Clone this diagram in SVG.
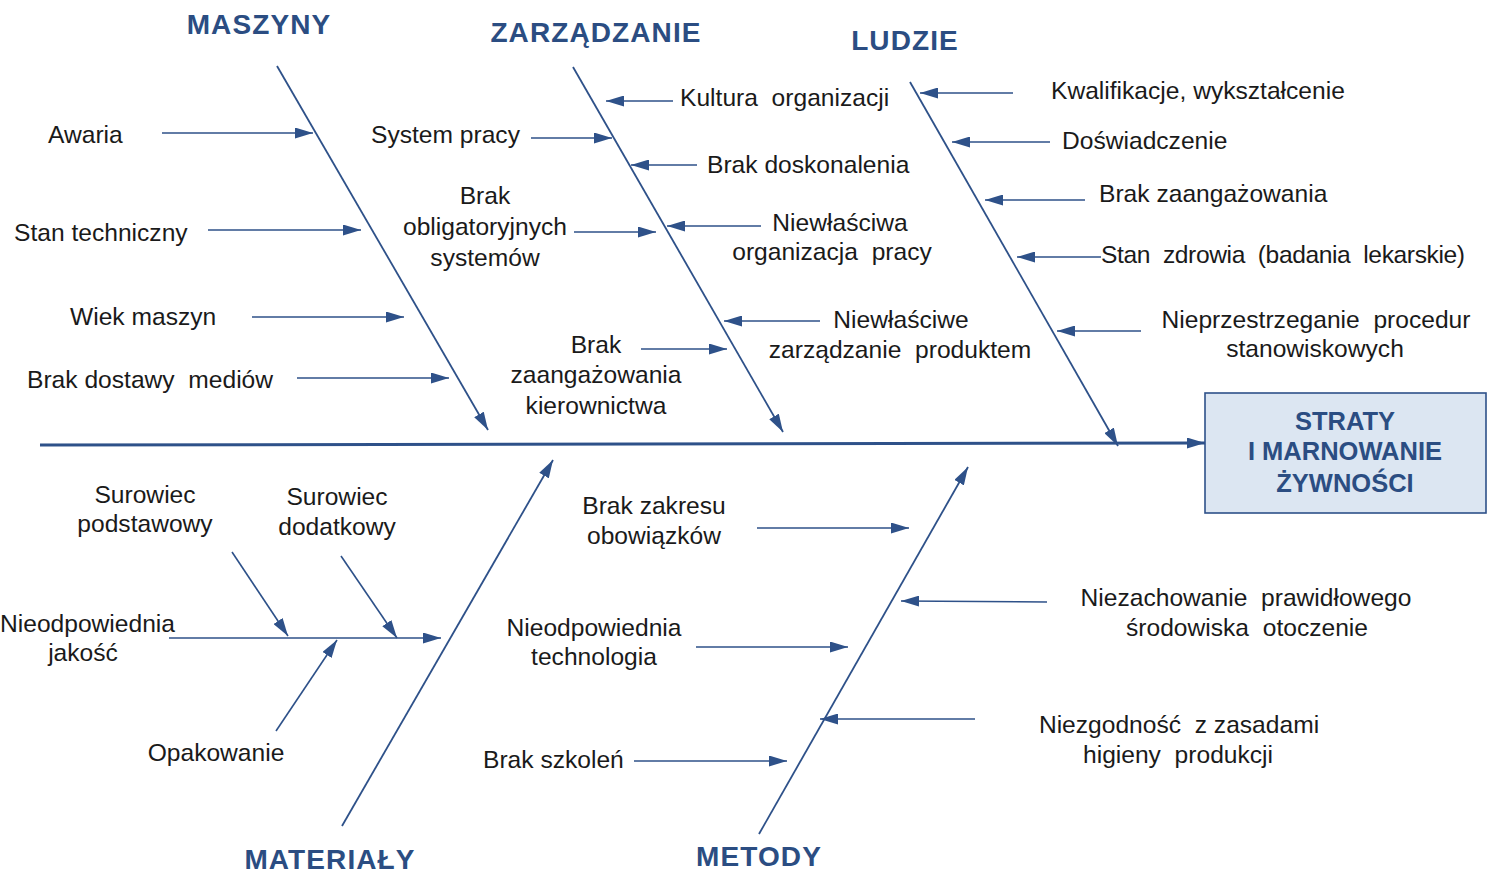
<svg xmlns="http://www.w3.org/2000/svg" width="1489" height="875" viewBox="0 0 1489 875">
<style>
.lbl{font-family:"Liberation Sans",Arial,sans-serif;font-size:24.6px;fill:#1a1a1a}
.mid{text-anchor:middle}
.ttl{font-family:"Liberation Sans",Arial,sans-serif;font-size:28px;font-weight:bold;fill:#2B4D82;text-anchor:middle;letter-spacing:1.1px}
.box{font-family:"Liberation Sans",Arial,sans-serif;font-size:25.5px;font-weight:bold;fill:#2B4D82;text-anchor:middle}
.ln{stroke:#2E5189;stroke-width:1.6;fill:none;marker-end:url(#ah)}
.bone{stroke:#2E5189;stroke-width:1.8;fill:none;marker-end:url(#ah)}
.spine{stroke:#2E5189;stroke-width:3;fill:none;marker-end:url(#ah)}
</style>
<defs>
<marker id="ah" viewBox="0 0 18 11" refX="18" refY="5.5" markerWidth="18" markerHeight="11" markerUnits="userSpaceOnUse" orient="auto">
<path d="M0,0 L18,5.5 L0,11 z" fill="#2E5189"/>
</marker>
</defs>
<rect width="1489" height="875" fill="#ffffff"/>

<g id="connectors">
<line class="spine" x1="40" y1="445" x2="1205" y2="443"/>
<line class="bone" x1="277" y1="66" x2="488" y2="430"/>
<line class="bone" x1="573" y1="67" x2="783" y2="432"/>
<line class="bone" x1="910" y1="82" x2="1118" y2="446"/>
<line class="bone" x1="342" y1="826" x2="553" y2="460"/>
<line class="bone" x1="759" y1="834" x2="968" y2="467"/>
<line class="ln" x1="162" y1="133" x2="313" y2="133"/>
<line class="ln" x1="208" y1="230" x2="361" y2="230"/>
<line class="ln" x1="252" y1="317" x2="404" y2="317"/>
<line class="ln" x1="297" y1="378" x2="449" y2="378"/>
<line class="ln" x1="673" y1="101" x2="606" y2="101"/>
<line class="ln" x1="531" y1="138" x2="612" y2="138"/>
<line class="ln" x1="697" y1="165" x2="631" y2="165"/>
<line class="ln" x1="574" y1="232" x2="656" y2="232"/>
<line class="ln" x1="761" y1="226" x2="667" y2="226"/>
<line class="ln" x1="820" y1="321" x2="724" y2="321"/>
<line class="ln" x1="641" y1="349" x2="727" y2="349"/>
<line class="ln" x1="1013" y1="93" x2="920" y2="93"/>
<line class="ln" x1="1050" y1="142" x2="952" y2="142"/>
<line class="ln" x1="1085" y1="200" x2="985" y2="200"/>
<line class="ln" x1="1101" y1="257" x2="1017" y2="257"/>
<line class="ln" x1="1141" y1="331" x2="1057" y2="331"/>
<line class="ln" x1="169" y1="638" x2="441" y2="638"/>
<line class="ln" x1="232" y1="552" x2="288" y2="636"/>
<line class="ln" x1="341" y1="556" x2="397" y2="638"/>
<line class="ln" x1="276" y1="731" x2="337" y2="640"/>
<line class="ln" x1="757" y1="528" x2="909" y2="528"/>
<line class="ln" x1="1047" y1="602" x2="901" y2="601"/>
<line class="ln" x1="696" y1="647" x2="848" y2="647"/>
<line class="ln" x1="975" y1="719" x2="820" y2="719"/>
<line class="ln" x1="634" y1="761" x2="787" y2="761"/>
</g>

<g id="titles">
<text class="ttl" x="259" y="34">MASZYNY</text>
<text class="ttl" x="596" y="42">ZARZĄDZANIE</text>
<text class="ttl" x="905" y="50">LUDZIE</text>
<text class="ttl" x="330" y="869">MATERIAŁY</text>
<text class="ttl" x="759" y="866">METODY</text>
</g>

<g id="effect">
<rect x="1205" y="393" width="281" height="120" fill="#DCE6F2" stroke="#2E5189" stroke-width="1.6"/>
<text class="box" x="1345" y="430">STRATY</text>
<text class="box" x="1345" y="460">I MARNOWANIE</text>
<text class="box" x="1345" y="492">ŻYWNOŚCI</text>
</g>

<g id="n-awaria"><text class="lbl" x="48" y="143">Awaria</text></g>
<g id="n-stan-techniczny"><text class="lbl" x="14" y="241">Stan techniczny</text></g>
<g id="n-wiek"><text class="lbl" x="70" y="325">Wiek maszyn</text></g>
<g id="n-media"><text class="lbl" x="27" y="388">Brak dostawy&#160; mediów</text></g>

<g id="n-kultura"><text class="lbl" x="680" y="106">Kultura&#160; organizacji</text></g>
<g id="n-system"><text class="lbl" x="371" y="143">System pracy</text></g>
<g id="n-doskonalenie"><text class="lbl" x="707" y="173">Brak doskonalenia</text></g>
<g id="n-obligatoryjne"><text class="lbl mid" x="485" y="204">Brak</text><text class="lbl mid" x="485" y="235">obligatoryjnych</text><text class="lbl mid" x="485" y="266">systemów</text></g>
<g id="n-organizacja"><text class="lbl mid" x="840" y="231">Niewłaściwa</text><text class="lbl mid" x="832" y="260">organizacja&#160; pracy</text></g>
<g id="n-produkt"><text class="lbl mid" x="901" y="328">Niewłaściwe</text><text class="lbl mid" x="900" y="358">zarządzanie&#160; produktem</text></g>
<g id="n-kierownictwo"><text class="lbl mid" x="596" y="353">Brak</text><text class="lbl mid" x="596" y="383">zaangażowania</text><text class="lbl mid" x="596" y="414">kierownictwa</text></g>

<g id="n-kwalifikacje"><text class="lbl" x="1051" y="99">Kwalifikacje, wykształcenie</text></g>
<g id="n-doswiadczenie"><text class="lbl" x="1062" y="149">Doświadczenie</text></g>
<g id="n-zaangazowanie"><text class="lbl" x="1099" y="202">Brak zaangażowania</text></g>
<g id="n-zdrowie"><text class="lbl" x="1101" y="263" textLength="364" lengthAdjust="spacing">Stan&#160; zdrowia&#160; (badania&#160; lekarskie)</text></g>
<g id="n-procedury"><text class="lbl mid" x="1316" y="328">Nieprzestrzeganie&#160; procedur</text><text class="lbl mid" x="1315" y="357">stanowiskowych</text></g>

<g id="n-podstawowy"><text class="lbl mid" x="145" y="503">Surowiec</text><text class="lbl mid" x="145" y="532">podstawowy</text></g>
<g id="n-dodatkowy"><text class="lbl mid" x="337" y="505">Surowiec</text><text class="lbl mid" x="337" y="535">dodatkowy</text></g>
<g id="n-jakosc"><text class="lbl" x="0" y="632">Nieodpowiednia</text><text class="lbl mid" x="83" y="661">jakość</text></g>
<g id="n-opakowanie"><text class="lbl mid" x="216" y="761">Opakowanie</text></g>

<g id="n-obowiazki"><text class="lbl mid" x="654" y="514">Brak zakresu</text><text class="lbl mid" x="654" y="544">obowiązków</text></g>
<g id="n-srodowisko"><text class="lbl mid" x="1246" y="606">Niezachowanie&#160; prawidłowego</text><text class="lbl mid" x="1247" y="636">środowiska&#160; otoczenie</text></g>
<g id="n-technologia"><text class="lbl mid" x="594" y="636">Nieodpowiednia</text><text class="lbl mid" x="594" y="665">technologia</text></g>
<g id="n-higiena"><text class="lbl mid" x="1179" y="733">Niezgodność&#160; z zasadami</text><text class="lbl mid" x="1178" y="763">higieny&#160; produkcji</text></g>
<g id="n-szkolenia"><text class="lbl" x="483" y="768">Brak szkoleń</text></g>
</svg>
